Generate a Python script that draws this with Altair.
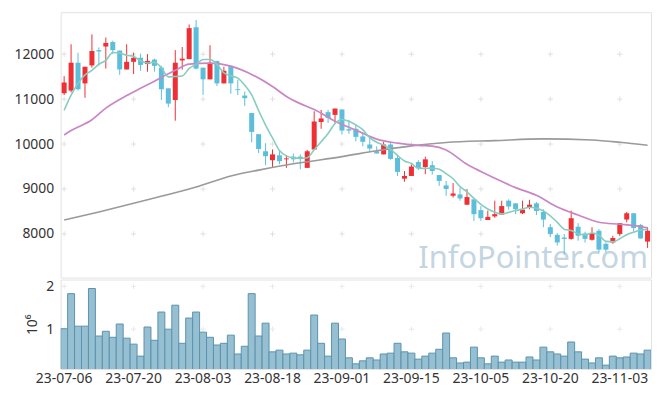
import altair as alt
import pandas as pd

dates = [
    "23-07-06", "23-07-07", "23-07-10", "23-07-11", "23-07-12", "23-07-13", "23-07-14",
    "23-07-17", "23-07-18", "23-07-19", "23-07-20", "23-07-21", "23-07-24", "23-07-25",
    "23-07-26", "23-07-27", "23-07-28", "23-07-31",
    "23-08-01", "23-08-02", "23-08-03", "23-08-04", "23-08-07", "23-08-08", "23-08-09",
    "23-08-10", "23-08-11", "23-08-14", "23-08-16", "23-08-17", "23-08-18", "23-08-21",
    "23-08-22", "23-08-23", "23-08-24", "23-08-25", "23-08-28", "23-08-29", "23-08-30",
    "23-08-31",
    "23-09-01", "23-09-04", "23-09-05", "23-09-06", "23-09-07", "23-09-08", "23-09-11",
    "23-09-12", "23-09-13", "23-09-14", "23-09-15", "23-09-18", "23-09-19", "23-09-20",
    "23-09-21", "23-09-22", "23-09-25", "23-09-26", "23-09-27",
    "23-10-04", "23-10-05", "23-10-06", "23-10-10", "23-10-11", "23-10-12", "23-10-13",
    "23-10-16", "23-10-17", "23-10-18", "23-10-19", "23-10-20", "23-10-23", "23-10-24",
    "23-10-25", "23-10-26", "23-10-27", "23-10-30", "23-10-31",
    "23-11-01", "23-11-02", "23-11-03", "23-11-06", "23-11-07", "23-11-08", "23-11-09",
]

opens = [11130, 11190, 11810, 11350, 11750, 12090, 12170, 12270, 12080, 11660,
         11830, 11920, 11780, 11880, 11700, 11240, 10980, 11860, 11890, 12600,
         11700, 11440, 11850, 11350, 11740, 11220, 11080, 10690, 10220, 9840,
         9640, 9750, 9660, 9720, 9720, 9470, 9880, 10490, 10710, 10650,
         10770, 10330, 10340, 10170, 9990, 9840, 9770, 9990, 9690, 9230,
         9290, 9600, 9490, 9530, 9310, 9080, 8850, 8880, 8650, 8770,
         8530, 8310, 8390, 8430, 8740, 8680, 8460, 8600, 8680, 8490,
         8150, 7980, 7920, 7890, 8160, 8010, 7870, 8070, 7780, 7810,
         8000, 8320, 8460, 8200, 7830]

closes = [11370, 11810, 11220, 11720, 12070, 12060, 12250, 12090, 11660, 11830,
          11920, 11760, 11850, 11740, 11220, 10900, 11810, 11900, 12580, 11680,
          11440, 11810, 11350, 11630, 11350, 11200, 11020, 10270, 9890, 9730,
          9770, 9620, 9680, 9660, 9680, 9840, 10500, 10570, 10580, 10790,
          10300, 10300, 10160, 10050, 9900, 9790, 9990, 9670, 9380, 9290,
          9500, 9460, 9660, 9400, 9180, 9000, 8900, 8790, 8820, 8440,
          8350, 8380, 8440, 8620, 8610, 8550, 8540, 8650, 8510, 8320,
          8000, 7810, 7890, 8350, 7960, 7890, 8020, 7650, 7650, 7910,
          8240, 8460, 8130, 7900, 8070]

highs = [11510, 12220, 12030, 11720, 12440, 12150, 12370, 12300, 12080, 12220,
         12030, 12010, 12000, 11900, 11740, 11240, 12090, 12160, 12660, 12760,
         11700, 12200, 11850, 11720, 11740, 11430, 11170, 10690, 10220, 10020,
         9880, 9870, 9750, 9790, 9770, 9870, 10730, 10760, 10760, 10790,
         10770, 10540, 10430, 10260, 10170, 9950, 10050, 10020, 9750, 9400,
         9550, 9640, 9720, 9620, 9310, 9180, 9130, 9030, 9000, 8770,
         8620, 8520, 8740, 8740, 8770, 8680, 8740, 8760, 8710, 8550,
         8220, 8020, 8000, 8520, 8240, 8050, 8150, 8110, 7810, 7960,
         8240, 8490, 8460, 8220, 8150]

lows = [11090, 11150, 11190, 11030, 11700, 11750, 11680, 12000, 11540, 11660,
        11560, 11630, 11610, 11610, 10980, 10820, 10520, 11660, 11890, 11660,
        11090, 11440, 11290, 11350, 11120, 11090, 10850, 10040, 9800, 9530,
        9490, 9550, 9470, 9590, 9440, 9470, 9880, 10340, 10470, 10470,
        10210, 10230, 10060, 9950, 9830, 9790, 9770, 9650, 9290, 9160,
        9290, 9420, 9330, 9320, 9070, 8850, 8810, 8740, 8650, 8290,
        8290, 8310, 8360, 8430, 8540, 8440, 8440, 8550, 8420, 8150,
        7930, 7740, 7540, 7870, 7850, 7810, 7850, 7590, 7590, 7780,
        7960, 8260, 8050, 7890, 7690]

# volume in millions of shares
volumes_m = [1.01, 1.83, 1.07, 1.07, 1.95, 0.84, 0.95, 0.81, 1.12, 0.79,
             0.65, 0.37, 1.05, 0.74, 1.40, 1.00, 1.56, 0.67, 1.26, 1.40,
             0.93, 0.81, 0.63, 0.67, 0.86, 0.42, 0.60, 1.83, 0.84, 1.14,
             0.47, 0.51, 0.42, 0.44, 0.40, 0.51, 1.33, 0.67, 0.37, 1.14,
             0.77, 0.33, 0.19, 0.26, 0.33, 0.28, 0.42, 0.44, 0.67, 0.47,
             0.44, 0.30, 0.37, 0.44, 0.53, 0.91, 0.33, 0.21, 0.23, 0.58,
             0.33, 0.19, 0.37, 0.23, 0.28, 0.23, 0.23, 0.35, 0.28, 0.58,
             0.47, 0.42, 0.37, 0.70, 0.47, 0.30, 0.21, 0.33, 0.16, 0.37,
             0.33, 0.35, 0.44, 0.42, 0.51]

ma5 = [10750, 11090, 11350, 11540, 11638, 11776, 11864, 12038, 12026, 11978,
       11950, 11852, 11804, 11820, 11698, 11494, 11504, 11514, 11682, 11774,
       11882, 11882, 11772, 11582, 11516, 11468, 11310, 11094, 10746, 10422,
       10136, 9856, 9738, 9692, 9682, 9696, 9872, 10050, 10234, 10456,
       10548, 10508, 10426, 10320, 10142, 10040, 9978, 9880, 9746, 9624,
       9566, 9460, 9458, 9462, 9440, 9340, 9228, 9054, 8938, 8790,
       8660, 8556, 8486, 8446, 8480, 8520, 8552, 8594, 8572, 8514,
       8404, 8258, 8106, 8074, 8002, 7980, 8022, 7974, 7834, 7824,
       7894, 7982, 8038, 8088, 8100]

ma20_idx = [0, 1, 4, 6, 9, 11, 13, 16, 18, 21, 24, 27, 30, 32, 34, 36, 39, 42, 45, 48,
            51, 53, 55, 58, 60, 62, 65, 68, 71, 74, 77, 80, 82, 84]
ma20_val = [10200, 10300, 10540, 10800, 11080, 11240, 11400, 11640, 11780, 11800,
            11735, 11550, 11280, 11060, 10900, 10770, 10510, 10310, 10110, 10020,
            9970, 9955, 9870, 9550, 9390, 9240, 9030, 8860, 8600, 8420,
            8260, 8215, 8185, 8135]

ma120_idx = [0, 5, 12, 19, 24, 28, 33, 40, 45, 50, 55, 62, 69, 76, 80, 84]
ma120_val = [8310, 8490, 8760, 9045, 9290, 9420, 9560, 9720, 9850, 9960,
             10035, 10077, 10115, 10090, 10040, 9975]

price_ticks = [8000, 9000, 10000, 11000, 12000]
vol_ticks = [1, 2]
x_tick_dates = dates[::10]

RED = "#ee3035"
BLUE = "#5dbedb"
FONT = "Noto Sans"

df = pd.DataFrame({
    "idx": list(range(len(dates))),
    "date": dates, "open": opens, "high": highs, "low": lows,
    "close": closes, "vol": volumes_m, "ma5": ma5,
})
df["dir"] = ["up" if c >= o else "down" for o, c in zip(opens, closes)]
ma20_df = pd.DataFrame({"idx": ma20_idx, "date": [dates[i] for i in ma20_idx], "v": ma20_val})
ma120_df = pd.DataFrame({"idx": ma120_idx, "date": [dates[i] for i in ma120_idx], "v": ma120_val})
grid_top = pd.DataFrame([(d, p) for d in x_tick_dates for p in price_ticks], columns=["date", "p"])
grid_vol = pd.DataFrame([(d, v) for d in x_tick_dates for v in vol_ticks], columns=["date", "v"])

xscale = alt.Scale(domain=dates, paddingInner=0, paddingOuter=0)
x_top = alt.X("date:O", scale=xscale, axis=None)
pscale = alt.Scale(domain=[7030, 12935], nice=False, zero=False)
p_axis = alt.Axis(values=price_ticks, format="d", grid=False, ticks=False, domain=False,
                  title=None, labelPadding=7)
color = alt.Color("dir:N", scale=alt.Scale(domain=["up", "down"], range=[RED, BLUE]), legend=None)
cross = "M-1,0L1,0M0,-1L0,1"

g_top = alt.Chart(grid_top).mark_point(shape=cross, size=28, filled=False, stroke="#e0e0e0",
                                        strokeWidth=1, opacity=1).encode(
    x=x_top, y=alt.Y("p:Q", scale=pscale, axis=p_axis))

wick = alt.Chart(df).mark_rule(strokeWidth=1).encode(
    x=x_top, y=alt.Y("low:Q", scale=pscale, axis=p_axis), y2="high:Q", color=color)
body = alt.Chart(df).mark_bar(width={"band": 0.72}).encode(
    x=x_top, y=alt.Y("open:Q", scale=pscale, axis=p_axis), y2="close:Q", color=color)

l120 = alt.Chart(ma120_df).mark_line(color="#9a9a9a", strokeWidth=1.6, interpolate="monotone").encode(
    x=x_top, y=alt.Y("v:Q", scale=pscale, axis=p_axis), order="idx:Q")
l20 = alt.Chart(ma20_df).mark_line(color="#c986c7", strokeWidth=1.7, interpolate="monotone").encode(
    x=x_top, y=alt.Y("v:Q", scale=pscale, axis=p_axis), order="idx:Q")
l5 = alt.Chart(df).mark_line(color="#86cdbf", strokeWidth=1.6, interpolate="monotone").encode(
    x=x_top, y=alt.Y("ma5:Q", scale=pscale, axis=p_axis), order="idx:Q")

wm = alt.Chart(pd.DataFrame({"t": ["InfoPointer.com"]})).mark_text(
    font=FONT, fontSize=31, color="#c4d5e2", align="right", baseline="alphabetic").encode(
    text="t:N", x=alt.value(591), y=alt.value(257))

top = alt.layer(g_top, wm, wick, body, l120, l20, l5).properties(width=594, height=267)

vscale = alt.Scale(domain=[0.07, 2.16], nice=False, zero=False)
v_axis = alt.Axis(values=vol_ticks, format="d", grid=False, ticks=False, domain=False,
                  title="10⁶", titleFontWeight="normal", titleFontSize=14, titleColor="#333",
                  titleFont=FONT, titlePadding=6, labelPadding=7)
x_vol = alt.X("date:O", scale=xscale,
              axis=alt.Axis(values=x_tick_dates, labelAngle=0, ticks=False, domain=False,
                            title=None, labelPadding=3))

g_vol = alt.Chart(grid_vol).mark_point(shape=cross, size=28, filled=False, stroke="#e0e0e0",
                                        strokeWidth=1).encode(
    x=x_vol, y=alt.Y("v:Q", scale=vscale, axis=v_axis))
vbars = alt.Chart(df).mark_bar(fill="#96bfd1", stroke="#5b93ad", strokeWidth=1, clip=True).encode(
    x=x_vol, y=alt.Y("vol:Q", scale=vscale, axis=v_axis))

bottom = alt.layer(g_vol, vbars).properties(width=594, height=90)

chart = alt.vconcat(top, bottom, spacing=0).properties(
    padding={"left": 5, "top": 2, "right": 5, "bottom": 5}
).configure_view(stroke="#e2e2e2").configure_axis(
    labelFont=FONT, labelFontSize=14, labelColor="#333"
)

chart.save("out.html", embed_options={"renderer": "svg", "actions": False})
